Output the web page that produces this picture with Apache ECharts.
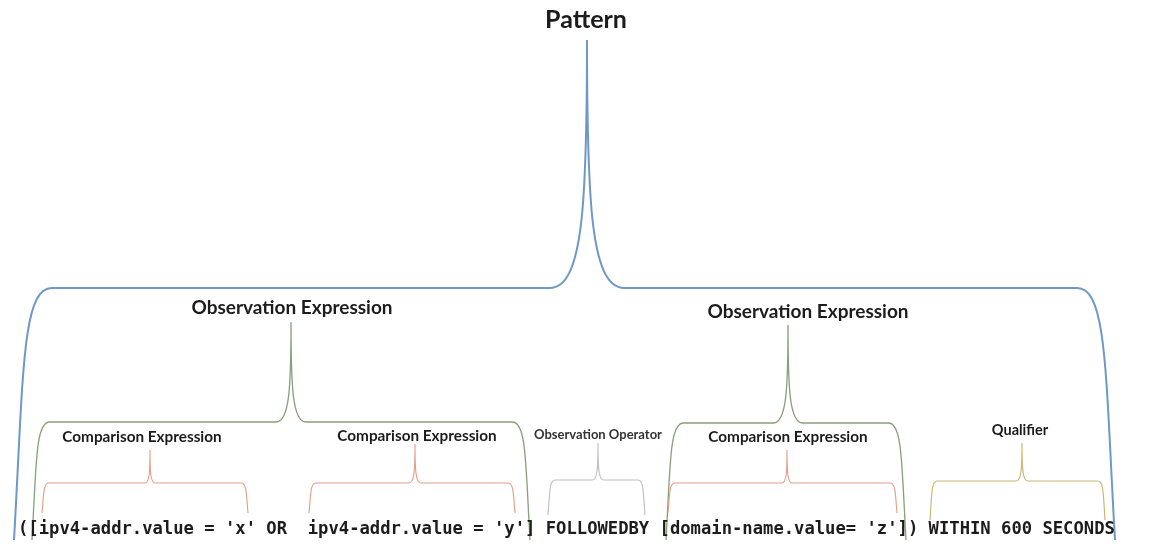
<!DOCTYPE html>
<html>
<head>
<meta charset="utf-8">
<title>Pattern</title>
<script src="https://cdn.jsdelivr.net/npm/echarts@6/dist/echarts.min.js"></script>
<style>
  html, body { margin: 0; padding: 0; background: #fff; }
  #main { width: 1161px; height: 548px; }
</style>
</head>
<body>
<div id="main"></div>
<script>
// brace labels and the span each brace covers (axis units = px of the 1161x548 sheet)
var labels = ['Pattern', 'Observation Expression', 'Observation Expression', 'Comparison Expression',
    'Comparison Expression', 'Observation Operator', 'Comparison Expression', 'Qualifier'];
var spanStart = [14, 32, 666, 42, 309, 548, 668, 930];
var spanEnd = [1115, 530, 906, 248, 515, 645, 897, 1105];
var tipX = [587, 291, 788, 150, 415, 598, 787, 1022];
var tipY = [40, 322, 325, 450, 444, 443, 450, 443];
var barY = [288, 422, 423, 483, 483, 480, 483, 481];
var footY = [540, 540, 540, 513, 513, 515, 513, 520];
var labelX = [586, 292, 808, 142, 417, 598, 788, 1020];
var labelY = [20, 308, 312, 437, 436, 435, 437, 430];

var expression = "([ipv4-addr.value = 'x' OR  ipv4-addr.value = 'y'] FOLLOWEDBY [domain-name.value= 'z']) WITHIN 600 SECONDS";

var braceColors = ['#6f98c9', '#86a07a', '#86a07a', '#e69b86', '#e69b86', '#bdbdbd', '#e69b86', '#cdb774'];
var braceWidths = [2, 1.3, 1.3, 1.1, 1.1, 1.1, 1.1, 1.2];
var labelSizes = [25, 19, 19, 15.3, 15.3, 13, 15.3, 14.5];

var myChart = echarts.init(document.getElementById('main'));

function bracePath(i, api) {
    function p(x, y) {
        var c = api.coord([x, y]);
        return c[0].toFixed(1) + ' ' + c[1].toFixed(1);
    }
    var x0 = spanStart[i], x1 = spanEnd[i], tx = tipX[i], ty = tipY[i];
    var by = barY[i], fy = footY[i];
    var h = fy - by, H = by - ty;
    var r = Math.max(7, h * 0.15);
    var w = Math.max(5, H * 0.15);
    return 'M' + p(x0, fy)
        + ' C' + p(x0 + r * 0.25, by + h * 0.35) + ' ' + p(x0 + r * 0.2, by) + ' ' + p(x0 + r, by)
        + ' L' + p(tx - w, by)
        + ' C' + p(tx - w * 0.1, by) + ' ' + p(tx, by - H * 0.35) + ' ' + p(tx, ty)
        + ' C' + p(tx, by - H * 0.35) + ' ' + p(tx + w * 0.1, by) + ' ' + p(tx + w, by)
        + ' L' + p(x1 - r, by)
        + ' C' + p(x1 - r * 0.2, by) + ' ' + p(x1 - r * 0.25, by + h * 0.35) + ' ' + p(x1, fy);
}

var option = {
    animation: false,
    grid: { left: 0, right: 0, top: 0, bottom: 0 },
    xAxis: { type: 'value', min: 0, max: 1161, show: false },
    yAxis: { type: 'value', min: 0, max: 548, inverse: true, show: false },
    series: [
        {
            // braces
            type: 'custom',
            data: labels.map(function (n, i) { return [i]; }),
            renderItem: function (params, api) {
                var i = api.value(0);
                return {
                    type: 'path',
                    shape: { pathData: bracePath(i, api) },
                    style: { fill: 'none', stroke: braceColors[i], lineWidth: braceWidths[i] }
                };
            }
        },
        {
            // brace labels
            type: 'custom',
            data: labels.map(function (n, i) { return [labelX[i], labelY[i], i]; }),
            renderItem: function (params, api) {
                var i = api.value(2);
                var c = api.coord([api.value(0), api.value(1)]);
                return {
                    type: 'text',
                    x: c[0],
                    y: c[1],
                    style: {
                        text: labels[i],
                        fontFamily: 'Lato',
                        fontWeight: 'bold',
                        fontSize: labelSizes[i],
                        fill: i === 5 ? '#333' : '#1c1c1c',
                        align: 'center',
                        verticalAlign: 'middle'
                    }
                };
            }
        },
        {
            // the expression itself
            type: 'custom',
            data: [[18, 530]],
            renderItem: function (params, api) {
                var c = api.coord([api.value(0), api.value(1)]);
                return {
                    type: 'text',
                    x: c[0],
                    y: c[1],
                    style: {
                        text: expression,
                        fontFamily: 'DejaVu Sans Mono',
                        fontWeight: 'bold',
                        fontSize: 17.2,
                        fill: '#1c1c1c',
                        align: 'left',
                        verticalAlign: 'middle'
                    }
                };
            }
        }
    ]
};
myChart.setOption(option);
window.onresize = myChart.resize;
</script>
</body>
</html>
